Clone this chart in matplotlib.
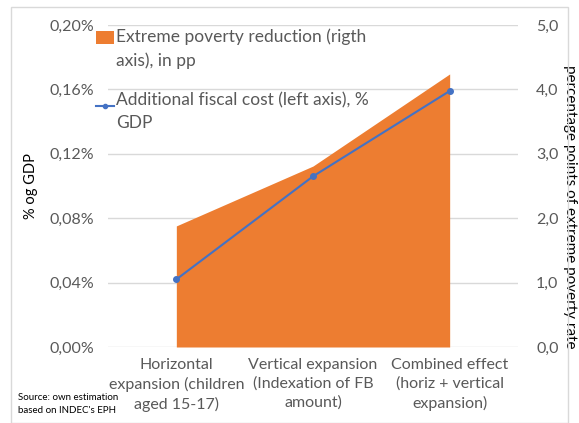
import matplotlib.pyplot as plt
from matplotlib.patches import Rectangle, Patch
from matplotlib.lines import Line2D
from matplotlib.legend_handler import HandlerPatch, HandlerLine2D
from matplotlib.ticker import FuncFormatter

plt.rcParams['font.family'] = ['Lato', 'DejaVu Sans']

# categories and values
categories = ["Horizontal\nexpansion (children\naged 15-17)",
              "Vertical expansion\n(Indexation of FB\namount)",
              "Combined effect\n(horiz + vertical\nexpansion)"]
poverty_reduction = [1.88, 2.81, 4.24]      # right axis, pp
fiscal_cost = [0.042, 0.106, 0.159]          # left axis, % GDP

left_ticks = [0.00, 0.04, 0.08, 0.12, 0.16, 0.20]
right_ticks = [0.0, 1.0, 2.0, 3.0, 4.0, 5.0]

ORANGE = '#ED7D31'
BLUE = '#4472C4'
GREY = '#595959'
GRID = '#D9D9D9'


# legend handles sit next to the first line of a two-line label
class UpPatch(HandlerPatch):
    def create_artists(self, legend, orig, xd, yd, w, h, fs, trans):
        return super().create_artists(legend, orig, xd, yd - 8.5, w, h, fs, trans)


class UpLine(HandlerLine2D):
    def create_artists(self, legend, orig, xd, yd, w, h, fs, trans):
        return super().create_artists(legend, orig, xd, yd - 8.5, w, h, fs, trans)


fig = plt.figure(figsize=(5.79, 4.23), dpi=100)
ax1 = fig.add_axes([108 / 579, 1 - 347 / 423, 410 / 579, 322 / 423])
ax2 = ax1.twinx()

x = list(range(len(categories)))

# area on the right axis
ax2.fill_between(x, 0, poverty_reduction, color=ORANGE, linewidth=0, zorder=2)
ax2.set_ylim(0, 5)
ax2.set_yticks(right_ticks)
ax2.yaxis.set_major_formatter(FuncFormatter(lambda v, p: f"{v:.1f}".replace('.', ',')))
ax2.grid(axis='y', color=GRID, linewidth=1)
ax2.set_axisbelow(True)
ax2.set_ylabel("percentage points of extreme poverty rate", rotation=-90,
               fontsize=11, color='black', va='center', ha='center')
ax2.yaxis.set_label_coords(1.128, 0.435)

# line on the left axis, drawn above the area
ax1.set_zorder(ax2.get_zorder() + 1)
ax1.patch.set_visible(False)
ax1.plot(x, fiscal_cost, color=BLUE, linewidth=1.5, marker='o', markersize=4)
ax1.set_ylim(0, 0.20)
ax1.set_yticks(left_ticks)
ax1.yaxis.set_major_formatter(FuncFormatter(lambda v, p: f"{v:.2f}%".replace('.', ',')))
ax1.set_ylabel("% og GDP", fontsize=10.5, color='black', labelpad=8)
ax1.set_xlim(-0.5, 2.5)
ax1.set_xticks(x)
ax1.set_xticklabels(categories, linespacing=1.4)

for ax in (ax1, ax2):
    for s in ax.spines.values():
        s.set_visible(False)
    ax.tick_params(length=0, labelsize=11.5, colors=GREY, pad=10)
ax1.tick_params(axis='x', pad=8)
ax2.tick_params(axis='y', pad=13)

handles = [Patch(facecolor=ORANGE, edgecolor='none'),
           Line2D([], [], color=BLUE, marker='o', markersize=3, linewidth=1.5)]
labels = ["Extreme poverty reduction (rigth\naxis), in pp",
          "Additional fiscal cost (left axis), %\nGDP"]
leg = ax1.legend(handles, labels, loc='upper left', bbox_to_anchor=(-0.045, 1.01),
                 frameon=False, fontsize=12.5, labelcolor=GREY, handlelength=1.0,
                 handleheight=0.8, handletextpad=0.15, labelspacing=1.3,
                 borderaxespad=0,
                 handler_map={Patch: UpPatch(), Line2D: UpLine()})
for t in leg.get_texts():
    t.set_linespacing(1.55)

fig.text(18 / 579, 1 - 404 / 423, "Source: own estimation\nbased on INDEC's EPH",
         fontsize=7, va='center', ha='left', linespacing=1.5)

fig.patches.append(Rectangle((11 / 579, 0), 1 - 22 / 579, 1 - 7 / 423,
                             transform=fig.transFigure, fill=False,
                             edgecolor='#D9D9D9', linewidth=1))

fig.savefig('out.png', dpi=100)
